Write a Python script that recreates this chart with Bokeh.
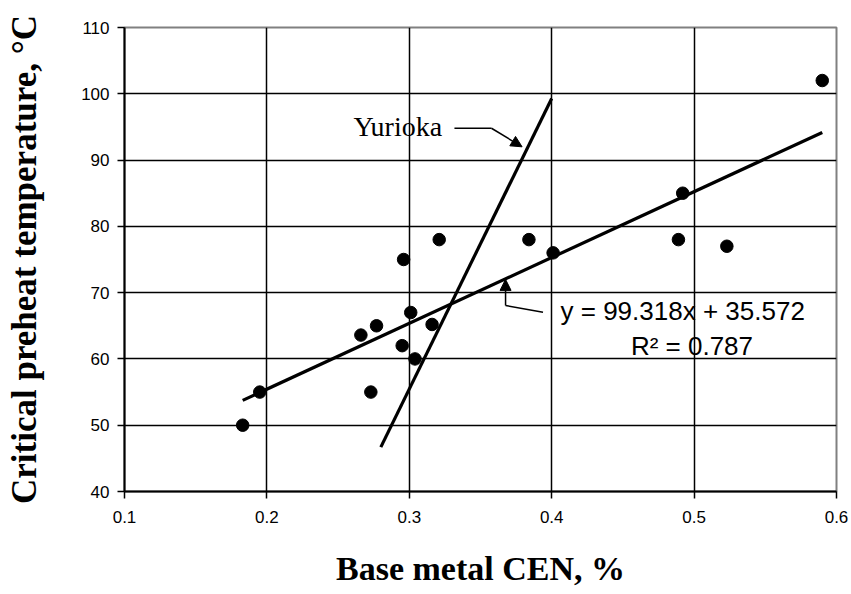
from bokeh.plotting import figure
from bokeh.models import Range1d, FixedTicker, Label, Arrow, NormalHead
from bokeh.embed import file_html
from bokeh.resources import INLINE

# ---- data ----
cen = [0.183, 0.195, 0.266, 0.277, 0.273, 0.295, 0.301, 0.304, 0.316, 0.296,
       0.321, 0.384, 0.401, 0.489, 0.492, 0.523, 0.590]
preheat = [50, 55, 63.6, 65, 55, 62, 67, 60, 65.2, 75,
           78, 78, 76, 78, 85, 77, 102]

trend_x = [0.183, 0.590]
trend_y = [53.75, 94.17]          # y = 99.318x + 35.572

yurioka_x = [0.280, 0.400]
yurioka_y = [46.7, 99.3]

x_ticks = [0.1, 0.2, 0.3, 0.4, 0.5, 0.6]
y_ticks = [40, 50, 60, 70, 80, 90, 100, 110]

eq_text = "y = 99.318x + 35.572"
r2_text = "R² = 0.787"
yurioka_text = "Yurioka"
x_title = "Base metal CEN, %"
y_title = "Critical preheat temperature, °C"

# ---- figure ----
p = figure(width=851, height=594, output_backend="svg", toolbar_location=None,
           x_range=Range1d(0.1, 0.6), y_range=Range1d(40, 110),
           min_border_left=124, min_border_right=15, min_border_top=27,
           min_border_bottom=103, background_fill_color="white",
           border_fill_color="white")

p.outline_line_color = "#808080"
p.outline_line_width = 2

p.xaxis.ticker = FixedTicker(ticks=x_ticks)
p.yaxis.ticker = FixedTicker(ticks=y_ticks)
for ax in (p.xaxis, p.yaxis):
    ax.axis_line_color = "black"
    ax.axis_line_width = 2
    ax.major_tick_line_color = "black"
    ax.major_tick_line_width = 1.5
    ax.major_tick_in = 0
    ax.major_tick_out = 7
    ax.minor_tick_line_color = None
    ax.major_label_text_font = "Liberation Sans"
    ax.major_label_text_font_size = "17px"
    ax.major_label_text_color = "black"
    ax.axis_label_text_font = "Liberation Serif"
    ax.axis_label_text_font_style = "bold"
    ax.axis_label_text_color = "black"
p.xaxis.major_label_standoff = 12
p.yaxis.major_label_standoff = 8

p.xaxis.axis_label = x_title
p.xaxis.axis_label_text_font_size = "34px"
p.xaxis.axis_label_standoff = 24
p.yaxis.axis_label = y_title
p.yaxis.axis_label_text_font_size = "35px"
p.yaxis.axis_label_standoff = 34

p.xgrid.ticker = FixedTicker(ticks=x_ticks)
p.ygrid.ticker = FixedTicker(ticks=y_ticks)
p.grid.grid_line_color = "black"
p.grid.grid_line_width = 1.5
p.grid.grid_line_alpha = 1.0

# lines
p.line(trend_x, trend_y, line_color="black", line_width=3.2)
p.line(yurioka_x, yurioka_y, line_color="black", line_width=3.2)

# points
p.scatter(cen, preheat, size=12.5, marker="circle", fill_color="black",
          line_color="black")

# ---- annotations ----
p.add_layout(Label(x=0.2608, y=95.1, text=yurioka_text,
                   text_font="Liberation Serif", text_font_size="28px",
                   text_color="black", text_baseline="alphabetic"))
p.add_layout(Arrow(end=None, x_start=0.3317, y_start=94.8, x_end=0.3577, y_end=94.8,
                   line_color="black", line_width=1.5))
p.add_layout(Arrow(end=NormalHead(size=11, fill_color="black", line_color="black"),
                   x_start=0.3577, y_start=94.8, x_end=0.3792, y_end=92.0,
                   line_color="black", line_width=1.5))

p.add_layout(Label(x=0.4062, y=67.3, text=eq_text,
                   text_font="Liberation Sans", text_font_size="26px",
                   text_color="black", text_baseline="alphabetic"))
p.add_layout(Label(x=0.4985, y=62.0, text=r2_text, text_align="center",
                   text_font="Liberation Sans", text_font_size="26px",
                   text_color="black", text_baseline="alphabetic"))
p.add_layout(Arrow(end=None, x_start=0.3939, y_start=67.05, x_end=0.3676, y_end=68.06,
                   line_color="black", line_width=1.5))
p.add_layout(Arrow(end=NormalHead(size=11, fill_color="black", line_color="black"),
                   x_start=0.3676, y_start=68.06, x_end=0.3676, y_end=72.0,
                   line_color="black", line_width=1.5))

open("out.html", "w").write(file_html(p, INLINE))
